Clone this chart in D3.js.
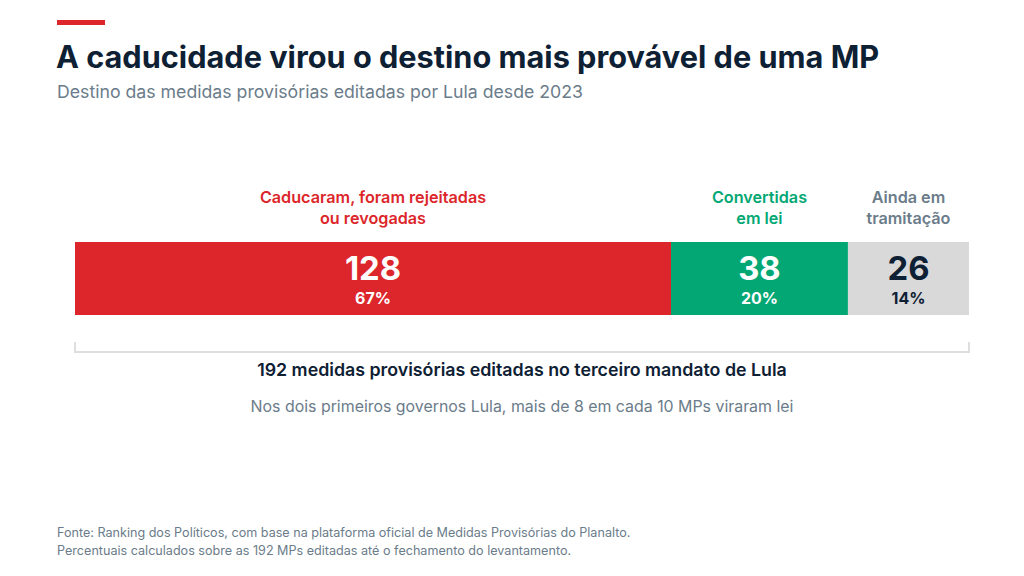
<!DOCTYPE html>
<html>
<head>
<meta charset="utf-8">
<script src="https://cdn.jsdelivr.net/npm/d3@7"></script>
<style>
  body { margin: 0; background: #fff; }
  svg { display: block; font-family: Inter, "Noto Sans", sans-serif; }
</style>
</head>
<body>
<svg id="chart" width="1024" height="576"></svg>
<script>
// data
const categories = ["Caducaram, foram rejeitadas|ou revogadas", "Convertidas|em lei", "Ainda em|tramitação"];
const counts = [128, 38, 26];
const shares = ["67%", "20%", "14%"];
const total = 192;

const fills = ["#dc262b", "#02a774", "#d9d9d9"];
const labelColors = ["#dc262b", "#02a774", "#6b7c8a"];
const valueColors = ["#ffffff", "#ffffff", "#0e2033"];

let svg = d3.select("#chart");

// header
svg.append("rect")
    .attr("x", 57).attr("y", 20)
    .attr("width", 48).attr("height", 5)
    .attr("fill", "#dc262b");

svg.append("text")
    .attr("x", 56).attr("y", 68)
    .attr("font-size", 30.7).attr("font-weight", 700)
    .attr("fill", "#0e2033")
    .text("A caducidade virou o destino mais provável de uma MP");

svg.append("text")
    .attr("x", 57).attr("y", 98)
    .attr("font-size", 17.7)
    .attr("fill", "#6b7c8a")
    .text("Destino das medidas provisórias editadas por Lula desde 2023");

// stacked bar
let margin = {left: 75, right: 55},
    width = 1024 - margin.left - margin.right;

let xScale = d3.scaleLinear()
    .domain([0, total])
    .range([margin.left, margin.left + width]);

let starts = d3.cumsum([0].concat(counts.slice(0, -1)));
let segs = counts.map((c, i) => ({cat: categories[i], n: c, share: shares[i], x0: starts[i], i: i}));

let barTop = 242, barH = 73;

let g = svg.append("g");

g.selectAll("rect.seg")
    .data(segs)
    .enter().append("rect")
    .attr("class", "seg")
    .attr("x", d => xScale(d.x0))
    .attr("y", barTop)
    .attr("width", d => xScale(d.x0 + d.n) - xScale(d.x0))
    .attr("height", barH)
    .attr("fill", d => fills[d.i]);

let mid = d => (xScale(d.x0) + xScale(d.x0 + d.n)) / 2;

// numbers
g.selectAll("text.num")
    .data(segs)
    .enter().append("text")
    .attr("class", "num")
    .attr("x", mid)
    .attr("y", barTop + 38)
    .attr("text-anchor", "middle")
    .attr("font-size", 32.8).attr("font-weight", 700)
    .attr("fill", d => valueColors[d.i])
    .text(d => d.n);

g.selectAll("text.pct")
    .data(segs)
    .enter().append("text")
    .attr("class", "pct")
    .attr("x", mid)
    .attr("y", barTop + 62)
    .attr("text-anchor", "middle")
    .attr("font-size", 16).attr("font-weight", 700)
    .attr("fill", d => valueColors[d.i])
    .text(d => d.share);

// category labels above
let labels = g.selectAll("text.cat")
    .data(segs)
    .enter().append("text")
    .attr("class", "cat")
    .attr("text-anchor", "middle")
    .attr("font-size", 16.2).attr("font-weight", 600)
    .attr("fill", d => labelColors[d.i]);

labels.selectAll("tspan")
    .data(d => d.cat.split("|").map(t => ({t: t, x: mid(d)})))
    .enter().append("tspan")
    .attr("x", d => d.x)
    .attr("y", (d, j) => 203 + j * 21)
    .text(d => d.t);

// bracket
let bx0 = xScale(0), bx1 = xScale(total), by = 352;
svg.append("path")
    .attr("d", "M" + bx0 + "," + (by - 10) + "V" + by + "H" + bx1 + "V" + (by - 10))
    .attr("fill", "none")
    .attr("stroke", "#dedede")
    .attr("stroke-width", 2);

svg.append("text")
    .attr("x", (bx0 + bx1) / 2).attr("y", 376)
    .attr("text-anchor", "middle")
    .attr("font-size", 17.8).attr("font-weight", 600)
    .attr("fill", "#0e2033")
    .text("192 medidas provisórias editadas no terceiro mandato de Lula");

svg.append("text")
    .attr("x", (bx0 + bx1) / 2).attr("y", 412)
    .attr("text-anchor", "middle")
    .attr("font-size", 15.9)
    .attr("fill", "#6b7c8a")
    .text("Nos dois primeiros governos Lula, mais de 8 em cada 10 MPs viraram lei");

// footer
let notes = ["Fonte: Ranking dos Políticos, com base na plataforma oficial de Medidas Provisórias do Planalto.",
             "Percentuais calculados sobre as 192 MPs editadas até o fechamento do levantamento."];

svg.selectAll("text.note")
    .data(notes)
    .enter().append("text")
    .attr("class", "note")
    .attr("x", 57)
    .attr("y", (d, i) => 537 + i * 18)
    .attr("font-size", 12.6)
    .attr("fill", "#6b7c8a")
    .text(d => d);
</script>
</body>
</html>
